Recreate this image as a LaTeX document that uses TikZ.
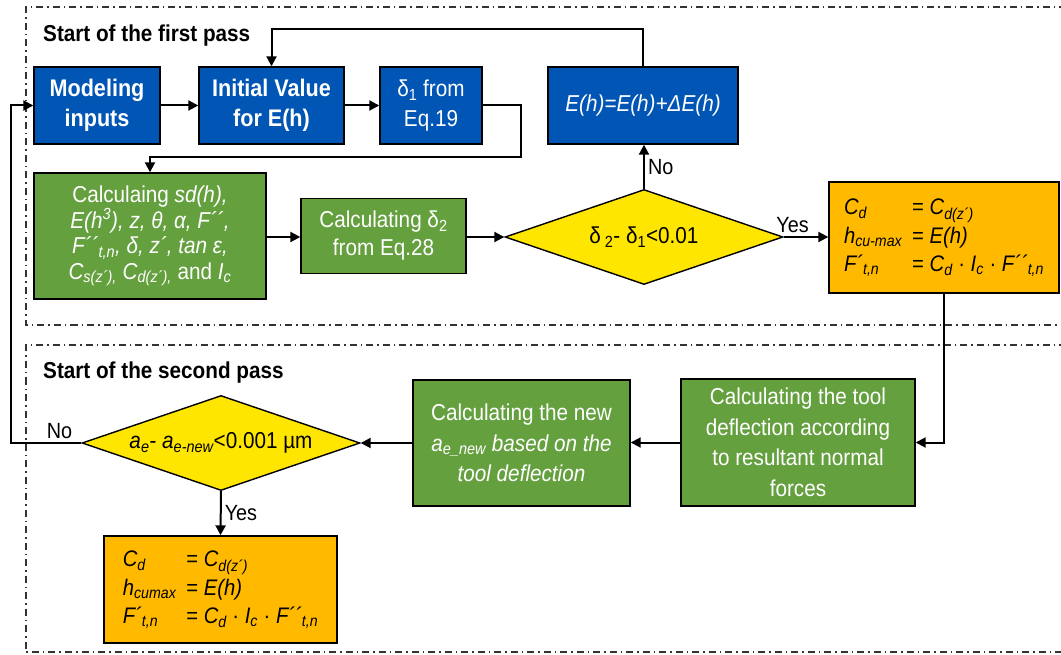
\documentclass[tikz,border=0pt]{standalone}
\usepackage{fontspec}
\setmainfont{Liberation Sans}[FakeStretch=0.9]
\usetikzlibrary{shapes.geometric,arrows.meta}

\definecolor{flowBlue}{HTML}{0055B5}
\definecolor{flowGreen}{HTML}{65A03F}
\definecolor{flowGold}{HTML}{FFBA00}
\definecolor{flowYellow}{HTML}{FFE600}

\begin{document}
\begin{tikzpicture}[x=1pt,y=-1pt,
  box/.style={draw=black,line width=1.4pt,text=white,align=center,inner sep=0pt},
  blueBox/.style={box,fill=flowBlue,minimum height=77pt,font=\fontsize{23}{30}\selectfont},
  greenBox/.style={box,fill=flowGreen,font=\fontsize{23}{30.5}\selectfont},
  goldBox/.style={box,fill=flowGold,text=black,font=\fontsize{22.5}{28.5}\selectfont},
  decision/.style={diamond,draw=black,line width=1.4pt,fill=flowYellow,aspect=2.9,
    inner sep=0pt,minimum width=278pt,minimum height=95pt,font=\fontsize{23}{26}\selectfont},
  arr/.style={line width=2pt,-{Triangle[length=10pt,width=10pt]}},
  lbl/.style={font=\fontsize{22}{26}\selectfont,inner sep=3pt},
  passFrame/.style={line width=1.3pt,black!80,dash pattern=on 7pt off 4pt on 1.5pt off 4pt},
  passTitle/.style={font=\fontsize{23}{26}\selectfont\bfseries,anchor=west,inner sep=0pt}]
  \useasboundingbox (0,0) rectangle (1061,655);

  % frames of the two passes
  \draw[passFrame] (1066,7) -- (26,7) -- (26,325) -- (1066,325);
  \draw[passFrame] (1066,345) -- (26,345) -- (26,652) -- (1066,652);
  \node[passTitle] (pass1) at (43,36) {Start of the first pass};
  \node[passTitle] (pass2) at (43,373) {Start of the second pass};

  % first pass
  \node[blueBox,minimum width=126pt,font=\fontsize{24}{30}\selectfont\bfseries] (minput) at (97,105.5) {Modeling\\inputs};
  \node[blueBox,minimum width=145pt,font=\fontsize{24}{30}\selectfont\bfseries] (initval) at (271.5,105.5) {Initial Value\\for E(h)};
  \node[blueBox,minimum width=102pt] (delta1) at (431,105.5) {δ\textsubscript{1} from\\Eq.19};
  \node[blueBox,minimum width=190pt] (eupdate) at (643,105.5) {\textit{E(h)=E(h)+ΔE(h)}};

  \node[greenBox,minimum width=232pt,minimum height=126pt,font=\fontsize{23}{25.5}\selectfont] (calc1) at (150,236)
    {Calculaing \textit{sd(h),}\\
     \textit{E(h\textsuperscript{3}), z, θ, α, F´´,}\\
     \textit{F´´\textsubscript{t,n}, δ, z´, tan ε,}\\
     \textit{C\textsubscript{s(z´),} C\textsubscript{d(z´),}} and \textit{I\textsubscript{c}}};
  \node[greenBox,minimum width=165pt,minimum height=75pt,font=\fontsize{23}{28}\selectfont] (calc2) at (383.5,236)
    {Calculating δ\textsubscript{2}\\from Eq.28};
  \node[decision] (check1) at (644,237) {δ\,\textsubscript{2}- δ\textsubscript{1}<0.01};
  \node[goldBox,minimum width=230pt,minimum height=111pt] (result1) at (944,237.5)
    {\begin{tabular}{@{}l@{\hspace{10pt}}l@{}}
      \textit{C\textsubscript{d}} & = \textit{C\textsubscript{d(z´)}}\\
      \textit{h\textsubscript{cu-max}} & = \textit{E(h)}\\
      \textit{F´\textsubscript{t,n}} & = \textit{C\textsubscript{d}} · \textit{I\textsubscript{c}} · \textit{F´´\textsubscript{t,n}}
     \end{tabular}};

  % second pass
  \node[greenBox,minimum width=234pt,minimum height=127pt] (defl) at (798,442.5)
    {Calculating the tool\\deflection according\\to resultant normal\\forces};
  \node[greenBox,minimum width=217pt,minimum height=126pt] (newae) at (521.5,443)
    {Calculating the new\\\textit{a\textsubscript{e\_new} based on the}\\\textit{tool deflection}};
  \node[decision] (check2) at (221,443) {\textit{a\textsubscript{e}}- \textit{a\textsubscript{e-new}}<0.001 µm};
  \node[goldBox,minimum width=233pt,minimum height=107pt] (result2) at (220.5,589.5)
    {\begin{tabular}{@{}l@{\hspace{10pt}}l@{}}
      \textit{C\textsubscript{d}} & = \textit{C\textsubscript{d(z´)}}\\
      \textit{h\textsubscript{cumax}} & = \textit{E(h)}\\
      \textit{F´\textsubscript{t,n}} & = \textit{C\textsubscript{d}} · \textit{I\textsubscript{c}} · \textit{F´´\textsubscript{t,n}}
     \end{tabular}};

  \coordinate (looptop) at (0,29);
  \coordinate (d1turn) at (521,157);
  \coordinate (loopleft) at (11,443);

  % connectors
  \draw[arr] (minput) -- (initval);
  \draw[arr] (initval) -- (delta1);
  \draw[arr] (delta1.east) -| (d1turn) -| (calc1.north);
  \draw[arr] (calc1.east |- check1) -- (calc2.west |- check1);
  \draw[arr] (calc2.east |- check1) -- (check1.west);
  \draw[arr] (check1.north) -- node[lbl,right] {No} (check1.north |- eupdate.south);
  \draw[arr] (eupdate.north) -- (eupdate.north |- looptop) -| (initval.north);
  \draw[arr] (check1.east) -- node[lbl,above,pos=0.2] {Yes} (result1.west |- check1);
  \draw[arr] (result1.south) |- (defl.east);
  \draw[arr] (defl.west) -- (newae.east |- defl.west);
  \draw[arr] (newae.west |- check2) -- (check2.east);
  \draw[arr] (check2.west) -- node[lbl,above,pos=0.31] {No} (loopleft) |- (minput.west);
  \draw[arr] (check2.south) -- node[lbl,right] {Yes} (result2.north);
\end{tikzpicture}
\end{document}
